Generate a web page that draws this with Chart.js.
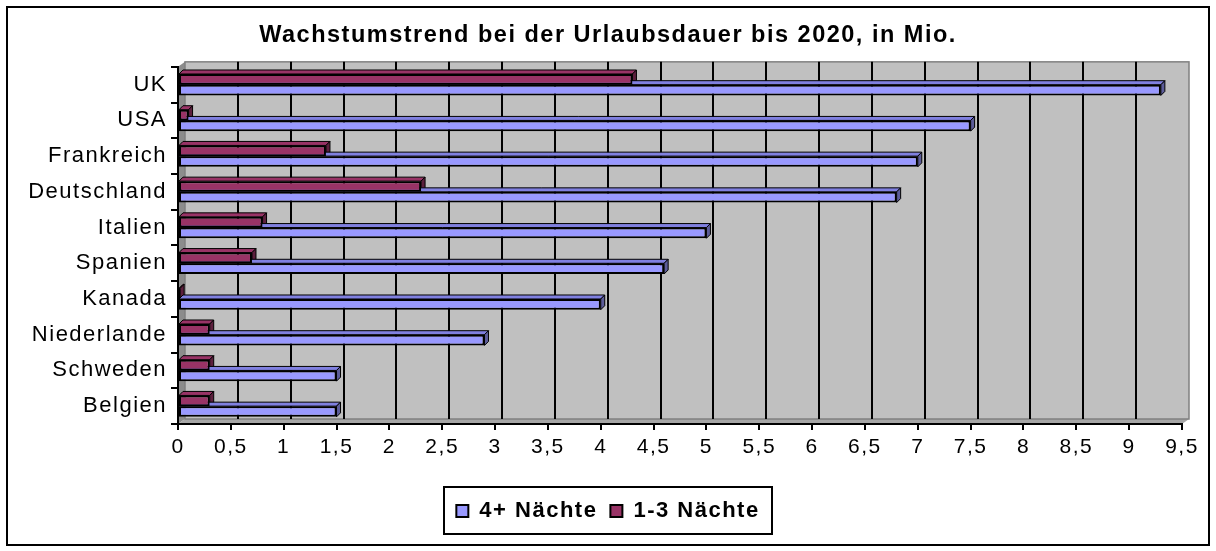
<!DOCTYPE html>
<html>
<head>
<meta charset="utf-8">
<script src="https://cdn.jsdelivr.net/npm/chart.js@4.4.1/dist/chart.umd.min.js"></script>
<style>
    html, body { margin: 0; padding: 0; background: #fff; }
    #wrap { position: relative; width: 1216px; height: 551px; }
    #frame {
        position: absolute; left: 6px; top: 6px; width: 1204px; height: 540px;
        border: 2px solid #000; box-sizing: border-box; pointer-events: none;
    }
</style>
</head>
<body>
<div id="wrap">
    <canvas id="chart" width="1216" height="551"></canvas>
    <div id="frame"></div>
</div>
<script>
// Data (Mio. trips)
const countries = ['UK', 'USA', 'Frankreich', 'Deutschland', 'Italien', 'Spanien', 'Kanada', 'Niederlande', 'Schweden', 'Belgien'];
const longStays = [9.3, 7.5, 7.0, 6.8, 5.0, 4.6, 4.0, 2.9, 1.5, 1.5];   // 4+ Nächte
const shortStays = [4.3, 0.1, 1.4, 2.3, 0.8, 0.7, 0.02, 0.3, 0.3, 0.3]; // 1-3 Nächte
const xTickLabels = ['0', '0,5', '1', '1,5', '2', '2,5', '3', '3,5', '4', '4,5', '5', '5,5', '6', '6,5', '7', '7,5', '8', '8,5', '9', '9,5'];

const FONT = '"Liberation Sans", Arial, sans-serif';
const DEPTH_X = 7;
const DEPTH_Y = -5;

// Excel draws its text a bit wider than the browser does
const letterSpacing = {
    id: 'letterSpacing',
    beforeLayout(chart) { chart.ctx.letterSpacing = '1.5px'; },
    beforeDraw(chart) { chart.ctx.letterSpacing = '1.5px'; }
};

// grey back wall, side wall and floor of the 3D plot area
const wall = {
    id: 'wall',
    beforeDraw(chart) {
        const ctx = chart.ctx;
        const { left, right, top, bottom } = chart.chartArea;
        const xScale = chart.scales.x;
        ctx.save();
        // side wall
        ctx.fillStyle = '#8c8c8c';
        ctx.beginPath();
        ctx.moveTo(left, top);
        ctx.lineTo(left + DEPTH_X, top + DEPTH_Y);
        ctx.lineTo(left + DEPTH_X, bottom + DEPTH_Y);
        ctx.lineTo(left, bottom);
        ctx.closePath();
        ctx.fill();
        // floor
        ctx.fillStyle = '#a6a6a6';
        ctx.beginPath();
        ctx.moveTo(left, bottom);
        ctx.lineTo(left + DEPTH_X, bottom + DEPTH_Y);
        ctx.lineTo(right + DEPTH_X, bottom + DEPTH_Y);
        ctx.lineTo(right, bottom);
        ctx.closePath();
        ctx.fill();
        // back wall
        ctx.fillStyle = '#c0c0c0';
        ctx.fillRect(left + DEPTH_X, top + DEPTH_Y, right - left, bottom - top);
        ctx.strokeStyle = '#808080';
        ctx.lineWidth = 1.5;
        ctx.strokeRect(left + DEPTH_X, top + DEPTH_Y, right - left, bottom - top);
        // gridlines on the back wall
        ctx.strokeStyle = '#000';
        ctx.lineWidth = 2;
        xScale.ticks.forEach(t => {
            if (t.value === 0 || t.value >= xScale.max) return;
            const px = Math.round(xScale.getPixelForValue(t.value)) + DEPTH_X;
            ctx.beginPath();
            ctx.moveTo(px, top + DEPTH_Y);
            ctx.lineTo(px, bottom + DEPTH_Y);
            ctx.stroke();
        });
        ctx.restore();
    }
};

// top and end faces of the 3D bars, drawn behind the front faces
const barFaces = {
    id: 'barFaces',
    beforeDatasetsDraw(chart) {
        const ctx = chart.ctx;
        const d = 4;
        ctx.save();
        ctx.lineWidth = 1;
        ctx.strokeStyle = '#000';
        chart.data.datasets.forEach((ds, di) => {
            const meta = chart.getDatasetMeta(di);
            meta.data.forEach(bar => {
                const { x, y, base, height } = bar.getProps(['x', 'y', 'base', 'height'], true);
                const top = y - height / 2;
                const bottom = y + height / 2;
                ctx.fillStyle = ds.faceColor;
                ctx.beginPath();
                ctx.moveTo(base, top);
                ctx.lineTo(base + d, top - d);
                ctx.lineTo(x + d, top - d);
                ctx.lineTo(x, top);
                ctx.closePath();
                ctx.fill();
                ctx.stroke();
                ctx.fillStyle = ds.sideColor;
                ctx.beginPath();
                ctx.moveTo(x, top);
                ctx.lineTo(x + d, top - d);
                ctx.lineTo(x + d, bottom - d);
                ctx.lineTo(x, bottom);
                ctx.closePath();
                ctx.fill();
                ctx.stroke();
            });
        });
        ctx.restore();
    }
};

// black frame round the legend
const legendFrame = {
    id: 'legendFrame',
    afterDraw(chart) {
        const boxes = chart.legend.legendHitBoxes;
        if (!boxes || !boxes.length) return;
        const left = Math.min(...boxes.map(b => b.left)) - 12;
        const right = Math.max(...boxes.map(b => b.left + b.width)) + 13;
        const top = Math.min(...boxes.map(b => b.top)) - 13;
        const bottom = Math.max(...boxes.map(b => b.top + b.height)) + 12;
        const ctx = chart.ctx;
        ctx.save();
        ctx.strokeStyle = '#000';
        ctx.lineWidth = 2;
        ctx.strokeRect(Math.round(left), Math.round(top), Math.round(right - left), Math.round(bottom - top));
        ctx.restore();
    }
};

const ctx = document.getElementById('chart');
new Chart(ctx, {
    type: 'bar',
    data: {
        labels: countries,
        datasets: [{
            label: '1-3 Nächte',
            data: shortStays,
            backgroundColor: '#993366',
            borderColor: '#000',
            borderWidth: 2,
            borderSkipped: false,
            faceColor: '#993366',
            sideColor: '#5c1f3d'
        }, {
            label: '4+ Nächte',
            data: longStays,
            backgroundColor: '#9999ff',
            borderColor: '#000',
            borderWidth: 2,
            borderSkipped: false,
            faceColor: '#8080e0',
            sideColor: '#5c5c99'
        }]
    },
    options: {
        indexAxis: 'y',
        responsive: false,
        animation: false,
        devicePixelRatio: 1,
        categoryPercentage: 0.6,
        barPercentage: 1,
        layout: {
            padding: { top: 0, left: 7, right: 7, bottom: 19 }
        },
        scales: {
            x: {
                min: 0,
                max: 9.5,
                afterFit(scale) {
                    scale.height = 63;
                    scale.paddingRight = 34;
                },
                afterBuildTicks(scale) {
                    scale.ticks = xTickLabels.map((_, i) => ({ value: i * 0.5 }));
                },
                ticks: {
                    color: '#000',
                    font: { family: FONT, size: 21 },
                    padding: 5,
                    maxRotation: 0,
                    autoSkip: false,
                    callback: (value, index) => xTickLabels[index]
                },
                grid: {
                    drawOnChartArea: false,
                    color: '#000',
                    lineWidth: 2,
                    tickLength: 6
                },
                border: { color: '#000', width: 2 }
            },
            y: {
                afterFit(scale) { scale.width = 171; },
                ticks: {
                    color: '#000',
                    font: { family: FONT, size: 22 },
                    padding: 4
                },
                grid: {
                    drawOnChartArea: false,
                    color: '#000',
                    lineWidth: 2,
                    tickLength: 7
                },
                border: { color: '#000', width: 2 }
            }
        },
        plugins: {
            title: {
                display: true,
                text: 'Wachstumstrend bei der Urlaubsdauer bis 2020, in Mio.',
                color: '#000',
                font: { family: FONT, size: 23.5, weight: 'bold', lineHeight: 1.1 },
                padding: { top: 23, bottom: 18 }
            },
            legend: {
                position: 'bottom',
                reverse: true,
                labels: {
                    color: '#000',
                    font: { family: FONT, size: 22, weight: 'bold' },
                    boxWidth: 12,
                    boxHeight: 12,
                    padding: 13
                }
            },
            tooltip: { enabled: false }
        }
    },
    plugins: [letterSpacing, wall, barFaces, legendFrame]
});
</script>
</body>
</html>
